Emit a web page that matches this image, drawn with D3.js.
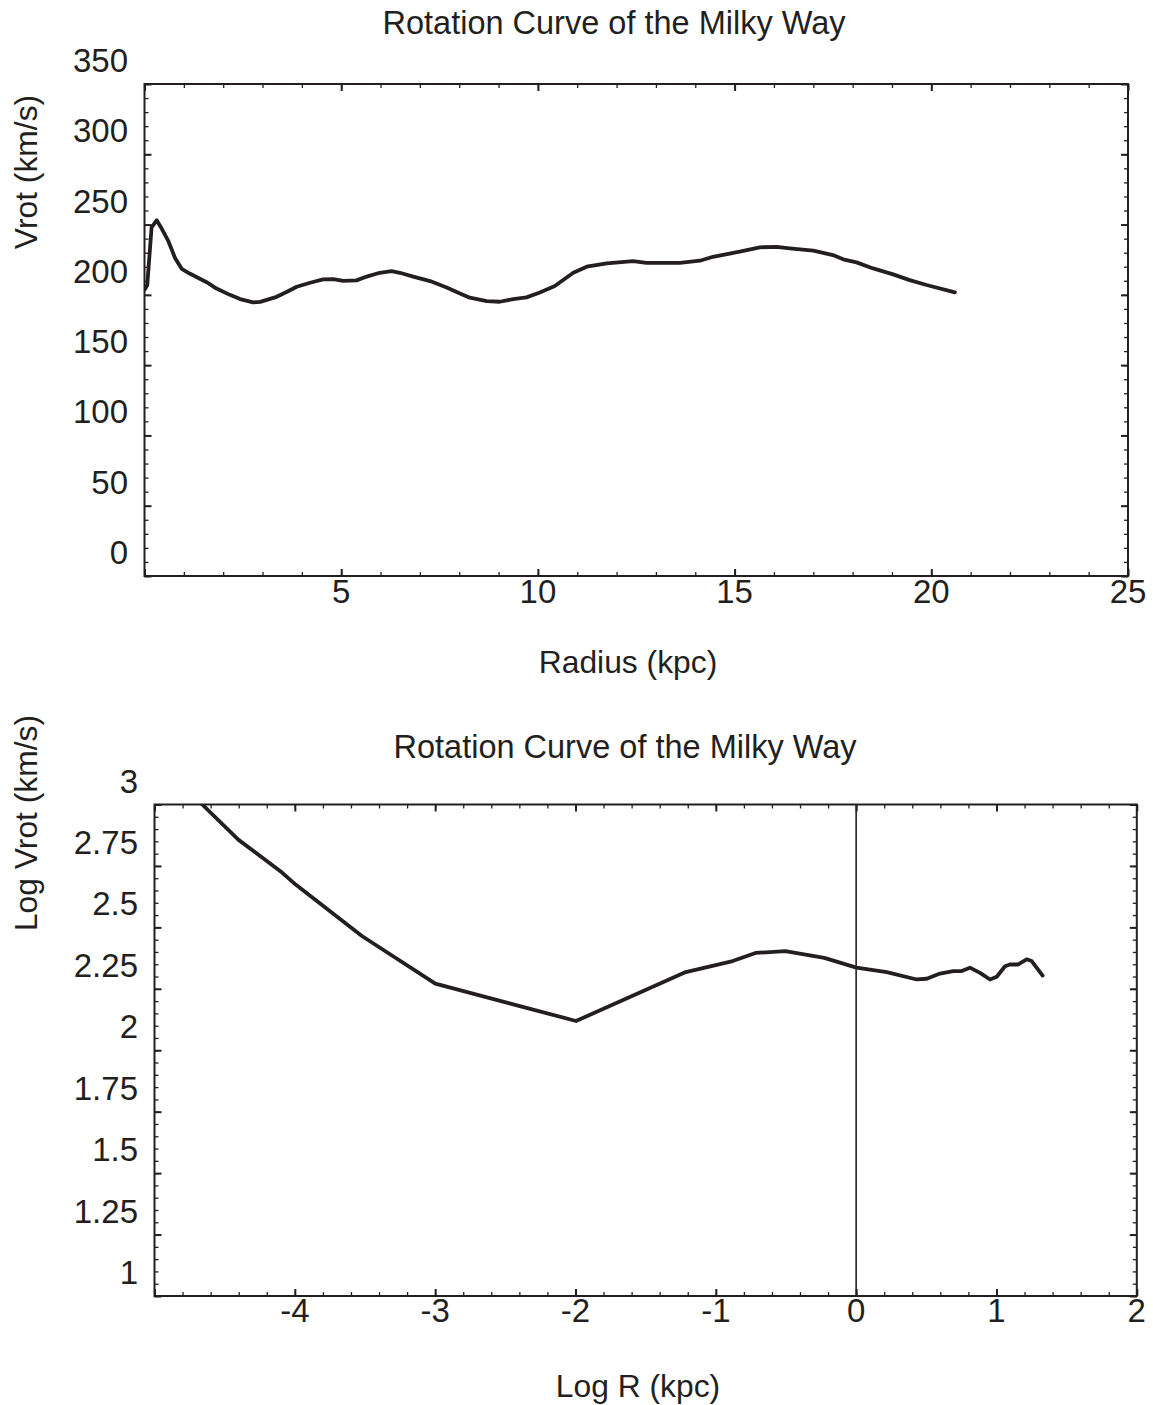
<!DOCTYPE html>
<html><head><meta charset="utf-8">
<script src="https://cdn.jsdelivr.net/npm/d3@7"></script>
<style>
html,body{margin:0;padding:0;background:#fff;}
text{font-family:"Liberation Sans",Arial,sans-serif;fill:#231f20;}
</style></head><body>
<svg id="c" width="1153" height="1405"></svg>
<script>
// ---- Data: linear rotation curve ----
const radiusKpc = [0.01,0.07,0.18,0.31,0.44,0.61,0.78,0.945,1.16,1.58,1.83,2.17,2.43,2.76,2.94,3.36,3.61,3.87,4.21,4.54,4.80,5.05,5.39,5.65,5.98,6.28,6.49,6.83,7.26,7.68,8.02,8.27,8.70,9.03,9.37,9.71,10.05,10.43,10.90,11.24,11.75,12.42,12.76,13.61,14.12,14.45,15.13,15.64,16.07,16.40,17.0,17.50,17.76,18.10,18.52,19.03,19.45,19.88,20.60];
const vrotKms   = [204,207,248,253,247,238,226,218.5,215,209,204.5,200,197,194.7,195,198.6,202,205.8,208.6,211,211.2,210,210.3,213,215.7,216.9,215.7,213,209.8,205.3,201,198,195.6,195.1,197,198.2,201.7,206.3,215.7,220,222.4,224,222.8,222.8,224.3,227.1,230.7,233.8,234.2,233.1,231.4,228.3,225.3,223.1,218.8,214.6,210.5,207,201.8];

// ---- Data: log-log rotation curve ----
const logR    = [-4.66,-4.401,-4.091,-3.992,-3.522,-2.999,-1.996,-1.214,-0.880,-0.717,-0.505,-0.227,0.002,0.218,0.432,0.503,0.598,0.692,0.752,0.811,0.883,0.954,1.002,1.061,1.096,1.155,1.215,1.251,1.329];
const logVrot = [3.0,2.856,2.723,2.673,2.465,2.271,2.119,2.318,2.363,2.396,2.403,2.376,2.336,2.318,2.288,2.291,2.312,2.322,2.322,2.336,2.315,2.288,2.299,2.342,2.349,2.349,2.370,2.363,2.304];

// ---- Tick labels ----
const topXTickLabels = [5,10,15,20,25];
const topYTickLabels = [0,50,100,150,200,250,300,350];
const botXTickLabels = [-4,-3,-2,-1,0,1,2];
const botYTickLabels = ["1","1.25","1.5","1.75","2","2.25","2.5","2.75","3"];

const titleText = "Rotation Curve of the Milky Way";
const ink = "#231f20";
const tickFont = 33, titleFont = 32.5, labelFont = 31.8;
const svg = d3.select("#c");

function frame(g, x, y, xMajor, xMinor, yMajor, yMinor) {
  const [x0,x1] = x.range(), [y0,y1] = y.range(); // y0 bottom, y1 top
  const axes = [
    [d3.axisBottom(x), `translate(0,${y0})`, xMajor, xMinor],
    [d3.axisTop(x), `translate(0,${y1})`, xMajor, xMinor],
    [d3.axisLeft(y), `translate(${x0},0)`, yMajor, yMinor],
    [d3.axisRight(y), `translate(${x1},0)`, yMajor, yMinor]
  ];
  axes.forEach(([ax, tr, maj, min]) => {
    g.append("g").attr("transform", tr)
      .call(ax.tickValues(min).tickSize(-4).tickFormat(""))
      .call(s => s.select(".domain").remove())
      .call(s => s.selectAll("line").attr("stroke", ink).attr("stroke-width", 1.3));
    g.append("g").attr("transform", tr)
      .call(ax.tickValues(maj).tickSize(-7).tickFormat(""))
      .call(s => s.select(".domain").remove())
      .call(s => s.selectAll("line").attr("stroke", ink).attr("stroke-width", 2));
  });
  g.append("rect").attr("x", x0).attr("y", y1).attr("width", x1 - x0).attr("height", y0 - y1)
    .attr("fill", "none").attr("stroke", ink).attr("stroke-width", 2);
}

// ================= Top chart =================
{
  const x = d3.scaleLinear().domain([0, 25]).range([144.5, 1128]);
  const y = d3.scaleLinear().domain([0, 350]).range([576, 84]);
  const g = svg.append("g");
  g.append("defs").append("clipPath").attr("id", "clipTop")
    .append("rect").attr("x", 144.5).attr("y", 84).attr("width", 1128 - 144.5).attr("height", 576 - 84);
  frame(g, x, y, d3.range(0, 26, 5), d3.range(0, 26, 1), d3.range(0, 351, 50), d3.range(0, 351, 10));
  const pts = radiusKpc.map((r, i) => [r, vrotKms[i]]);
  g.append("path").datum(pts).attr("clip-path", "url(#clipTop)")
    .attr("fill", "none").attr("stroke", ink).attr("stroke-width", 3.8).attr("stroke-linejoin", "round").attr("stroke-linecap", "round")
    .attr("d", d3.line().x(d => x(d[0])).y(d => y(d[1])));
  g.selectAll(".xl").data(topXTickLabels).join("text")
    .attr("x", d => x(d)).attr("y", 603).attr("text-anchor", "middle").attr("font-size", tickFont).text(d => d);
  g.selectAll(".yl").data(topYTickLabels).join("text")
    .attr("x", 128).attr("y", d => y(d) - 12).attr("text-anchor", "end").attr("font-size", tickFont).text(d => d);
  g.append("text").attr("x", 614).attr("y", 34).attr("text-anchor", "middle").attr("font-size", titleFont).text(titleText);
  g.append("text").attr("x", 628).attr("y", 673).attr("text-anchor", "middle").attr("font-size", labelFont).text("Radius (kpc)");
  g.append("text").attr("transform", "translate(37,172) rotate(-90)").attr("text-anchor", "middle").attr("font-size", labelFont).text("Vrot (km/s)");
}

// ================= Bottom chart =================
{
  const x = d3.scaleLinear().domain([-5, 2]).range([154.5, 1136.8]);
  const y = d3.scaleLinear().domain([1, 3]).range([1296, 804.5]);
  const g = svg.append("g");
  g.append("defs").append("clipPath").attr("id", "clipBot")
    .append("rect").attr("x", 154.5).attr("y", 804.5).attr("width", 1136.8 - 154.5).attr("height", 1296 - 804.5);
  // vertical axis line at log R = 0
  g.append("line").attr("x1", x(0)).attr("x2", x(0)).attr("y1", y(3)).attr("y2", y(1))
    .attr("stroke", ink).attr("stroke-width", 1.6);
  frame(g, x, y, d3.range(-5, 2.01, 1), d3.range(-5, 2.01, 0.2).map(v => +v.toFixed(2)),
        d3.range(1, 3.001, 0.25), d3.range(1, 3.001, 0.05).map(v => +v.toFixed(2)));
  const pts = logR.map((r, i) => [r, logVrot[i]]);
  g.append("path").datum(pts).attr("clip-path", "url(#clipBot)")
    .attr("fill", "none").attr("stroke", ink).attr("stroke-width", 3.8).attr("stroke-linejoin", "round").attr("stroke-linecap", "round")
    .attr("d", d3.line().x(d => x(d[0])).y(d => y(d[1])));
  g.selectAll(".xl").data(botXTickLabels).join("text")
    .attr("x", d => x(d)).attr("y", 1322).attr("text-anchor", "middle").attr("font-size", tickFont).text(d => d);
  g.selectAll(".yl").data(botYTickLabels).join("text")
    .attr("x", 138).attr("y", d => y(+d) - 12).attr("text-anchor", "end").attr("font-size", tickFont).text(d => d);
  g.append("text").attr("x", 625).attr("y", 758).attr("text-anchor", "middle").attr("font-size", titleFont).text(titleText);
  g.append("text").attr("x", 638).attr("y", 1397).attr("text-anchor", "middle").attr("font-size", labelFont).text("Log R (kpc)");
  g.append("text").attr("transform", "translate(37,823) rotate(-90)").attr("text-anchor", "middle").attr("font-size", labelFont).text("Log Vrot (km/s)");
}
</script>
</body></html>
